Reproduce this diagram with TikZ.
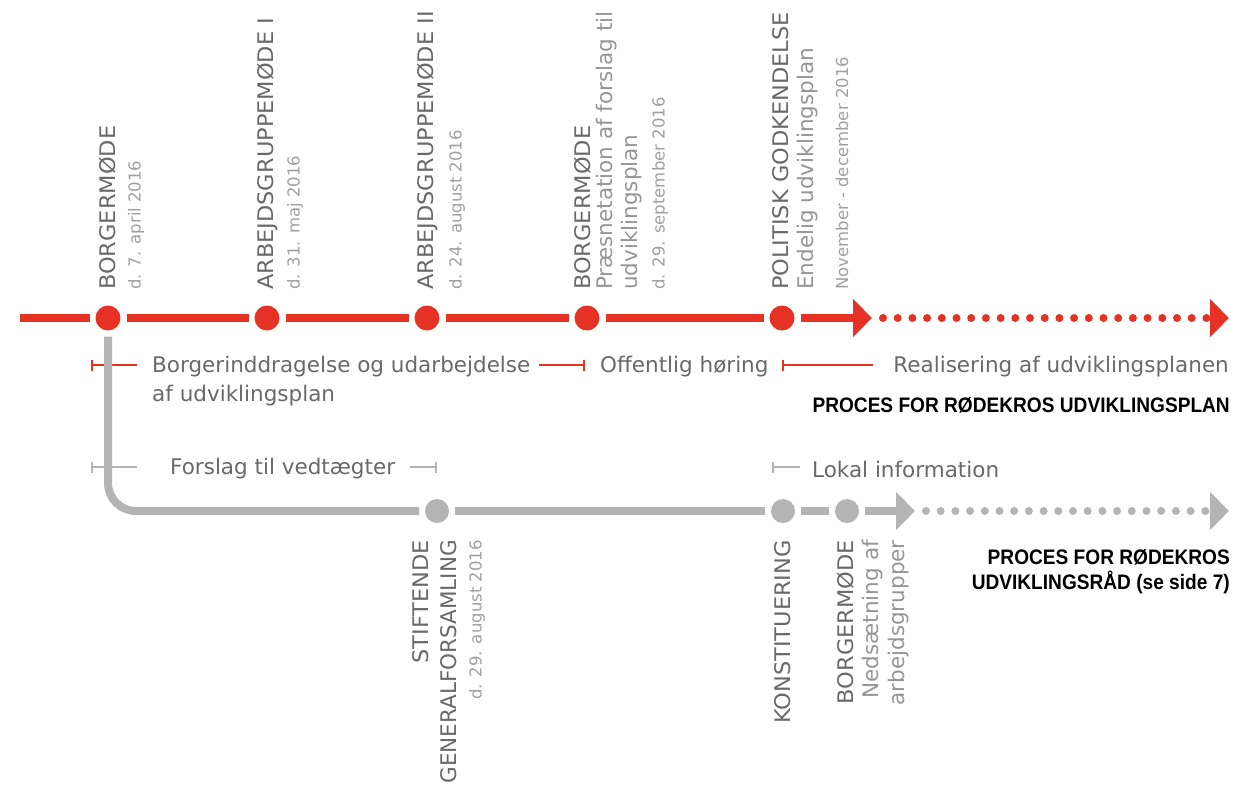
\documentclass[tikz,border=0pt]{standalone}
\usepackage{fontspec}
\setmainfont{DejaVu Sans}
\newfontfamily\headfont[FakeStretch=1.045]{DejaVu Sans}
\newfontfamily\titlefont[FakeStretch=0.91]{Liberation Sans}
\usetikzlibrary{arrows.meta,positioning}
\definecolor{procred}{RGB}{229,50,37}
\definecolor{procgrey}{RGB}{180,180,180}
\definecolor{txtdark}{RGB}{105,105,105}
\definecolor{txtlight}{RGB}{150,150,150}
\definecolor{txtdate}{RGB}{160,160,160}

\begin{document}
\begin{tikzpicture}[x=1pt, y=-1pt,
  redpt/.style = {circle, fill=procred, minimum size=25pt, inner sep=0pt, outer sep=6pt},
  greypt/.style = {circle, fill=procgrey, minimum size=24pt, inner sep=0pt, outer sep=6pt},
  redline/.style = {draw=procred, line width=8pt},
  greyline/.style = {draw=procgrey, line width=8pt},
  dotline/.style = {line cap=round, dash pattern=on 0pt off 14.7pt, shorten <=11pt},
  bigtip/.style = {-{Triangle[length=19pt, width=37pt]}},
  redspan/.style = {draw=procred, line width=2pt},
  greyspan/.style = {draw=procgrey, line width=2pt},
  toplbl/.style = {rotate=90, anchor=west, inner sep=0pt},
  botlbl/.style = {rotate=90, anchor=east, inner sep=0pt},
  headtxt/.style = {font=\headfont\fontsize{21.5}{25}\selectfont, text=txtdark},
  longtxt/.style = {font=\fontsize{21.5}{25}\selectfont, text=txtdark},
  subtxt/.style = {font=\fontsize{21.5}{25}\selectfont, text=txtlight},
  datetxt/.style = {font=\fontsize{16.5}{20}\selectfont, text=txtdate},
  spantxt/.style = {font=\fontsize{21.5}{25}\selectfont, text=txtdark, anchor=west, inner sep=0pt},
  proctitle/.style = {font=\titlefont\bfseries\fontsize{21}{25}\selectfont, align=right, anchor=north east, inner sep=0pt}]
\useasboundingbox (0,0) rectangle (1235,785);

% red timeline
\coordinate (rstart) at (20,318);
\node[redpt] (r1) at (108,318) {};
\node[redpt] (r2) at (267,318) {};
\node[redpt] (r3) at (427,318) {};
\node[redpt] (r4) at (587,318) {};
\node[redpt] (r5) at (782,318) {};
\coordinate (rtip) at (872,318);
\coordinate (rend) at (1229,318);
\draw[redline] (rstart) -- (r1);
\draw[redline] (r1) -- (r2);
\draw[redline] (r2) -- (r3);
\draw[redline] (r3) -- (r4);
\draw[redline] (r4) -- (r5);
\draw[redline, bigtip] (r5) -- (rtip);
\draw[redline, dotline, bigtip] (rtip) -- (rend);

% labels above
\node[toplbl, headtxt] (n1) at (108,290) {BORGERMØDE};
\node[toplbl, datetxt] (d1) at (136,290) {d. 7. april 2016};
\node[toplbl, headtxt] (n2) at (267,290) {ARBEJDSGRUPPEMØDE I};
\node[toplbl, datetxt] (d2) at (295,290) {d. 31. maj 2016};
\node[toplbl, headtxt] (n3) at (427,290) {ARBEJDSGRUPPEMØDE II};
\node[toplbl, datetxt] (d3) at (457,290) {d. 24. august 2016};
\node[toplbl, headtxt] (n4) at (583,290) {BORGERMØDE};
\node[toplbl, subtxt] (s4a) at (607,290) {Præsnetation af forslag til};
\node[toplbl, subtxt] (s4b) at (632,290) {udviklingsplan};
\node[toplbl, datetxt] (d4) at (660,290) {d. 29. september 2016};
\node[toplbl, headtxt] (n5) at (781,290) {POLITISK GODKENDELSE};
\node[toplbl, subtxt] (s5) at (808,290) {Endelig udviklingsplan};
\node[toplbl, datetxt] (d5) at (842,290) {November - december 2016};

% red spans
\coordinate (a1) at (91,365);
\coordinate (a2) at (585,365);
\coordinate (a3) at (782,365);
\node[spantxt] (borger) at (152,367) {Borgerinddragelse og udarbejdelse};
\node[spantxt, below=7pt of borger.south west, anchor=north west] (borger2) {af udviklingsplan};
\node[spantxt] (hoering) at (600,367) {Offentlig høring};
\node[spantxt, anchor=east] (real) at (1229,367) {Realisering af udviklingsplanen};
\draw[redspan, {Bar[width=11pt]}-, shorten >=15pt] (a1) -- (a1 -| borger.west);
\draw[redspan, -{Bar[width=11pt]}, shorten <=8pt] (a1 -| borger.east) -- (a2);
\draw[redspan, {Bar[width=11pt]}-, shorten >=20pt] (a3) -- (a3 -| real.west);
\node[proctitle] (plan) at (1230,397) {PROCES FOR RØDEKROS UDVIKLINGSPLAN};

% grey timeline
\node[greypt] (g1) at (437,511) {};
\node[greypt] (g2) at (783,511) {};
\node[greypt] (g3) at (847,511) {};
\coordinate (gtip) at (915,511);
\coordinate (gend) at (1229,511);
\draw[greyline, rounded corners=28pt] (r1) -- (r1 |- g1) -- (g1);
\draw[greyline] (g1) -- (g2);
\draw[greyline] (g2) -- (g3);
\draw[greyline, bigtip] (g3) -- (gtip);
\draw[greyline, dotline, bigtip] (gtip) -- (gend);

% grey spans
\coordinate (b1) at (91,467);
\coordinate (b2) at (772,467);
\node[spantxt] (forslag) at (170,469) {Forslag til vedtægter};
\node[spantxt] (lokal) at (812,469) {Lokal information};
\draw[greyspan, {Bar[width=11pt]}-, shorten >=33pt] (b1) -- (b1 -| forslag.west);
\draw[greyspan, -{Bar[width=11pt]}, shorten <=15pt] (b1 -| forslag.east) -- (b1 -| g1);
\draw[greyspan, {Bar[width=11pt]}-, shorten >=12pt] (b2) -- (b2 -| lokal.west);

% labels below
\node[botlbl, headtxt] (m1a) at (421,540) {STIFTENDE};
\node[botlbl, longtxt] (m1b) at (449,540) {GENERALFORSAMLING};
\node[botlbl, datetxt] (e1) at (477,540) {d. 29. august 2016};
\node[botlbl, headtxt] (m2) at (783,540) {KONSTITUERING};
\node[botlbl, headtxt] (m3) at (846,540) {BORGERMØDE};
\node[botlbl, subtxt] (t3a) at (873,540) {Nedsætning af};
\node[botlbl, subtxt] (t3b) at (899,540) {arbejdsgrupper};
\node[proctitle] (raad) at (1230,549) {PROCES FOR RØDEKROS\\UDVIKLINGSRÅD (se side 7)};
\end{tikzpicture}
\end{document}
